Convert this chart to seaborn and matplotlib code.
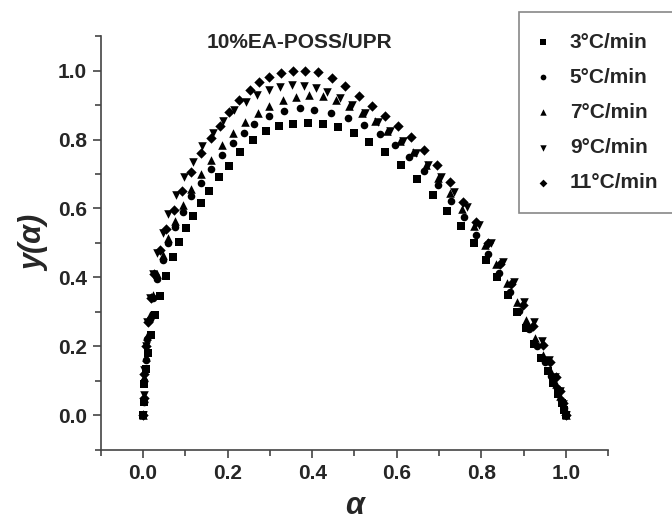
import pandas as pd
import matplotlib
matplotlib.use("Agg")
import matplotlib.pyplot as plt
import seaborn as sns
from matplotlib.ticker import MultipleLocator

# data (alpha, y(alpha)) for each heating rate
a3 = [0.0, 0.001, 0.003, 0.006, 0.011, 0.019, 0.028, 0.039, 0.054, 0.070, 0.086, 0.102, 0.118, 0.137, 0.157, 0.180,
      0.204, 0.230, 0.259, 0.291, 0.322, 0.354, 0.389, 0.425, 0.460, 0.500, 0.535, 0.572, 0.610, 0.648, 0.685, 0.720,
      0.752, 0.782, 0.810, 0.837, 0.862, 0.885, 0.906, 0.925, 0.942, 0.957, 0.970, 0.981, 0.990, 0.996, 1.0]
y3 = [0.0, 0.04, 0.09, 0.135, 0.18, 0.234, 0.29, 0.345, 0.405, 0.46, 0.503, 0.542, 0.578, 0.617, 0.652, 0.69,
      0.724, 0.763, 0.80, 0.825, 0.839, 0.844, 0.847, 0.844, 0.837, 0.82, 0.794, 0.764, 0.726, 0.686, 0.638, 0.592,
      0.548, 0.50, 0.45, 0.40, 0.35, 0.30, 0.253, 0.208, 0.166, 0.128, 0.093, 0.062, 0.035, 0.014, 0.0]

a5 = [0.0, 0.001, 0.003, 0.006, 0.010, 0.016, 0.024, 0.034, 0.046, 0.060, 0.076, 0.094, 0.114, 0.136, 0.160, 0.186,
      0.212, 0.238, 0.263, 0.299, 0.334, 0.370, 0.405, 0.445, 0.484, 0.523, 0.560, 0.595, 0.630, 0.664, 0.697, 0.728,
      0.758, 0.787, 0.815, 0.842, 0.867, 0.890, 0.912, 0.932, 0.950, 0.965, 0.978, 0.988, 0.995, 1.0]
y5 = [0.0, 0.04, 0.10, 0.16, 0.22, 0.28, 0.34, 0.395, 0.45, 0.50, 0.545, 0.59, 0.635, 0.675, 0.715, 0.755,
      0.79, 0.82, 0.845, 0.868, 0.882, 0.89, 0.886, 0.878, 0.862, 0.842, 0.815, 0.785, 0.75, 0.71, 0.668, 0.622,
      0.574, 0.522, 0.468, 0.412, 0.357, 0.302, 0.25, 0.20, 0.155, 0.115, 0.078, 0.045, 0.02, 0.0]

a7 = [0.0, 0.001, 0.003, 0.006, 0.010, 0.016, 0.024, 0.034, 0.046, 0.060, 0.076, 0.094, 0.114, 0.136, 0.160, 0.186,
      0.212, 0.240, 0.271, 0.299, 0.330, 0.362, 0.393, 0.425, 0.456, 0.487, 0.518, 0.548, 0.578, 0.608, 0.638, 0.668,
      0.697, 0.726, 0.754, 0.782, 0.809, 0.835, 0.860, 0.884, 0.906, 0.927, 0.946, 0.962, 0.976, 0.987, 0.995, 1.0]
y7 = [0.0, 0.05, 0.11, 0.17, 0.23, 0.29, 0.35, 0.41, 0.465, 0.515, 0.565, 0.61, 0.655, 0.70, 0.74, 0.785,
      0.82, 0.852, 0.878, 0.897, 0.914, 0.924, 0.928, 0.926, 0.915, 0.898, 0.877, 0.853, 0.826, 0.796, 0.763, 0.727,
      0.688, 0.645, 0.598, 0.548, 0.495, 0.44, 0.385, 0.33, 0.277, 0.225, 0.175, 0.13, 0.09, 0.055, 0.025, 0.0]

a9 = [0.0, 0.001, 0.003, 0.006, 0.010, 0.016, 0.024, 0.034, 0.046, 0.060, 0.077, 0.096, 0.117, 0.140, 0.165, 0.190,
      0.216, 0.243, 0.270, 0.298, 0.325, 0.352, 0.380, 0.408, 0.436, 0.465, 0.495, 0.525, 0.555, 0.585, 0.615, 0.645,
      0.675, 0.705, 0.735, 0.765, 0.795, 0.824, 0.852, 0.878, 0.902, 0.924, 0.944, 0.961, 0.975, 0.986, 0.994, 1.0]
y9 = [0.0, 0.06, 0.13, 0.20, 0.27, 0.34, 0.41, 0.47, 0.53, 0.585, 0.64, 0.69, 0.735, 0.78, 0.82, 0.855,
      0.885, 0.91, 0.93, 0.945, 0.953, 0.958, 0.956, 0.949, 0.937, 0.921, 0.90, 0.877, 0.852, 0.825, 0.795, 0.762,
      0.727, 0.69, 0.648, 0.603, 0.553, 0.50, 0.445, 0.388, 0.33, 0.272, 0.215, 0.16, 0.112, 0.07, 0.033, 0.0]

a11 = [0.0, 0.001, 0.003, 0.006, 0.011, 0.018, 0.027, 0.039, 0.055, 0.072, 0.092, 0.114, 0.138, 0.160, 0.181, 0.204,
       0.228, 0.252, 0.275, 0.299, 0.326, 0.354, 0.382, 0.413, 0.446, 0.478, 0.510, 0.541, 0.572, 0.603, 0.634, 0.665,
       0.695, 0.725, 0.756, 0.787, 0.815, 0.843, 0.870, 0.898, 0.922, 0.945, 0.962, 0.976, 0.987, 0.994, 1.0]
y11 = [0.0, 0.05, 0.12, 0.20, 0.27, 0.34, 0.41, 0.48, 0.54, 0.595, 0.65, 0.705, 0.76, 0.805, 0.84, 0.88,
       0.915, 0.945, 0.968, 0.982, 0.993, 1.0, 1.0, 0.996, 0.979, 0.955, 0.926, 0.898, 0.869, 0.839, 0.806, 0.77,
       0.725, 0.676, 0.62, 0.56, 0.50, 0.44, 0.38, 0.32, 0.26, 0.205, 0.155, 0.11, 0.07, 0.035, 0.0]

labels = ["3°C/min", "5°C/min", "7°C/min", "9°C/min", "11°C/min"]
markers = ["s", "o", "^", "v", "D"]
sizes = [26, 30, 38, 38, 28]
tick_vals = [0.0, 0.2, 0.4, 0.6, 0.8, 1.0]
tick_text = ["0.0", "0.2", "0.4", "0.6", "0.8", "1.0"]

series = [(a3, y3), (a5, y5), (a7, y7), (a9, y9), (a11, y11)]

sns.set_style("ticks")
plt.rcParams['font.family'] = ['Liberation Sans', 'DejaVu Sans']
plt.rcParams['font.weight'] = 'bold'

fig = plt.figure(figsize=(6.72, 5.23), dpi=100)
ax = fig.add_axes([0.150, 0.140, 0.755, 0.791])

for (xs, ys), lab, m, s in zip(series, labels, markers, sizes):
    df = pd.DataFrame({"alpha": xs, "y": ys})
    sns.scatterplot(data=df, x="alpha", y="y", marker=m, s=s, color="black",
                    linewidth=0, label=lab, ax=ax)

ax.set_xlim(-0.1, 1.1)
ax.set_ylim(-0.1, 1.1)
ax.set_xticks(tick_vals)
ax.set_yticks(tick_vals)
ax.set_xticklabels(tick_text)
ax.set_yticklabels(tick_text)
ax.xaxis.set_minor_locator(MultipleLocator(0.1))
ax.yaxis.set_minor_locator(MultipleLocator(0.1))

for sp in ["top", "right"]:
    ax.spines[sp].set_visible(False)
for sp in ["left", "bottom"]:
    ax.spines[sp].set_color("#444444")
    ax.spines[sp].set_linewidth(1.2)

ax.tick_params(axis="both", which="major", direction="out", length=6, width=1.2,
               color="#444444", labelsize=15, pad=4)
ax.tick_params(axis="both", which="minor", direction="out", length=4, width=1.2, color="#444444")
for t in ax.get_xticklabels() + ax.get_yticklabels():
    t.set_fontweight("bold")

ax.set_xlabel("α", fontsize=22, fontstyle="italic", fontweight="bold", labelpad=6)
ax.set_ylabel("y(α)", fontsize=22, fontstyle="italic", fontweight="bold", labelpad=6)

ax.text(0.37, 1.08, "10%EA-POSS/UPR", ha="center", va="center", fontsize=15, fontweight="bold")

leg = ax.legend(loc="upper left", bbox_to_anchor=(0.772, 0.977), bbox_transform=fig.transFigure,
                frameon=True, fancybox=False, edgecolor="#888888", framealpha=1,
                prop={"size": 15, "weight": "bold"}, markerscale=0.75, handlelength=0.3,
                handletextpad=1.15, labelspacing=0.77, borderpad=1.0, borderaxespad=0)
leg.get_frame().set_linewidth(1.2)

fig.savefig("out.png", dpi=100)
